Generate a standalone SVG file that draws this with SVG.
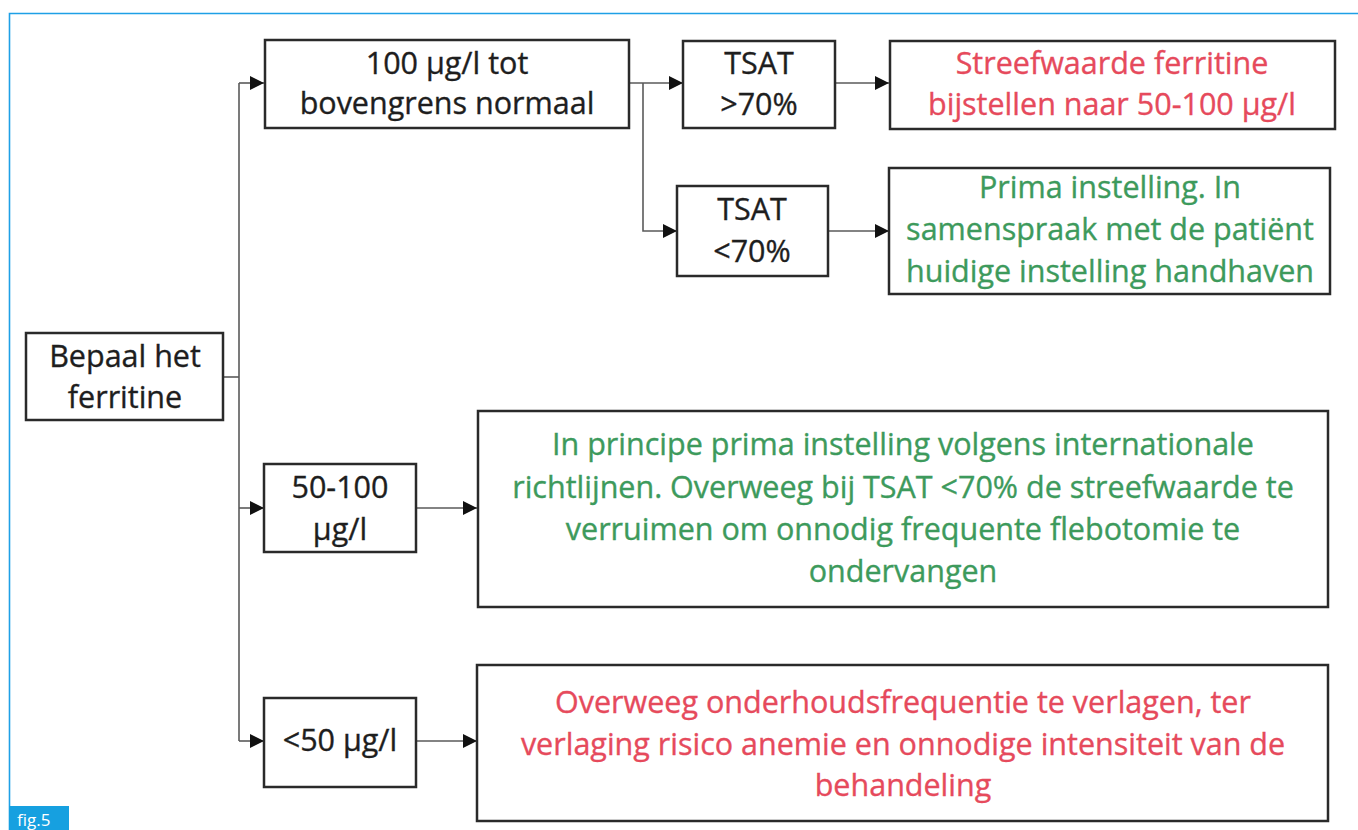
<svg xmlns="http://www.w3.org/2000/svg" width="1358" height="830" viewBox="0 0 1358 830">
  <style>
    .box { fill: #ffffff; stroke: #2a2a2a; stroke-width: 2.5; }
    .wire { fill: none; stroke: #5a5a5a; stroke-width: 1.6; }
    text { font-family: "Open Sans", "Liberation Sans", sans-serif; font-size: 30.5px; text-anchor: middle; stroke-width: 0.35; }
    .k { fill: #1e1e1e; stroke: #1e1e1e; }
    .r { fill: #e64a5c; stroke: #e64a5c; }
    .g { fill: #3d9a5c; stroke: #3d9a5c; }
    .tag { font-family: "Open Sans", "Liberation Sans", sans-serif; font-size: 17px; fill: #ffffff; stroke: none; text-anchor: start; }
  </style>
  <defs>
    <marker id="arrow" markerWidth="14" markerHeight="14" refX="14" refY="7" orient="auto" markerUnits="userSpaceOnUse">
      <path d="M0,0 L14,7 L0,14 Z" fill="#111111"/>
    </marker>
  </defs>

  <rect width="1358" height="830" fill="#ffffff"/>

  <!-- frame -->
  <path d="M9.5,830 L9.5,13.5 L1358,13.5" fill="none" stroke="#1ea0e6" stroke-width="1.6"/>
  <g id="figure-tag">
    <rect x="9" y="806" width="60" height="24" fill="#16a0e0"/>
    <text class="tag" x="17" y="826">fig.5</text>
  </g>

  <!-- connectors -->
  <g id="connectors">
    <path class="wire" d="M223,377 L239,377"/>
    <path class="wire" d="M239,83 L239,741"/>
    <path class="wire" d="M239,83 L264,83" marker-end="url(#arrow)"/>
    <path class="wire" d="M239,508 L264,508" marker-end="url(#arrow)"/>
    <path class="wire" d="M239,741 L264,741" marker-end="url(#arrow)"/>
    <path class="wire" d="M629,83 L683,83" marker-end="url(#arrow)"/>
    <path class="wire" d="M643,83 L643,231 L677,231" marker-end="url(#arrow)"/>
    <path class="wire" d="M835,83 L889,83" marker-end="url(#arrow)"/>
    <path class="wire" d="M828,231 L889,231" marker-end="url(#arrow)"/>
    <path class="wire" d="M416,508 L477,508" marker-end="url(#arrow)"/>
    <path class="wire" d="M416,741 L477,741" marker-end="url(#arrow)"/>
  </g>

  <g id="start">
    <rect class="box" x="26" y="333" width="197" height="87"/>
    <text class="k" x="125" y="367">Bepaal het</text>
    <text class="k" x="125" y="408">ferritine</text>
  </g>

  <g id="range-high">
    <rect class="box" x="265" y="40" width="364" height="88"/>
    <text class="k" x="447" y="74">100 µg/l tot</text>
    <text class="k" x="447" y="114">bovengrens normaal</text>
  </g>

  <g id="tsat-high">
    <rect class="box" x="683" y="41" width="152" height="87"/>
    <text class="k" x="759" y="74">TSAT</text>
    <text class="k" x="759" y="115">&gt;70%</text>
  </g>

  <g id="tsat-low">
    <rect class="box" x="677" y="186" width="151" height="90"/>
    <text class="k" x="752" y="220">TSAT</text>
    <text class="k" x="752" y="262">&lt;70%</text>
  </g>

  <g id="adjust-target">
    <rect class="box" x="890" y="41" width="445" height="88"/>
    <text class="r" x="1112" y="74">Streefwaarde ferritine</text>
    <text class="r" x="1112" y="115">bijstellen naar 50-100 µg/l</text>
  </g>

  <g id="keep-setting">
    <rect class="box" x="889" y="168" width="441" height="126"/>
    <text class="g" x="1110" y="198">Prima instelling. In</text>
    <text class="g" x="1110" y="240">samenspraak met de patiënt</text>
    <text class="g" x="1110" y="282">huidige instelling handhaven</text>
  </g>

  <g id="range-mid">
    <rect class="box" x="264" y="464" width="152" height="88"/>
    <text class="k" x="340" y="498">50-100</text>
    <text class="k" x="340" y="540">µg/l</text>
  </g>

  <g id="mid-advice">
    <rect class="box" x="478" y="411" width="850" height="196"/>
    <text class="g" x="903" y="455">In principe prima instelling volgens internationale</text>
    <text class="g" x="903" y="498">richtlijnen. Overweeg bij TSAT &lt;70% de streefwaarde te</text>
    <text class="g" x="903" y="540">verruimen om onnodig frequente flebotomie te</text>
    <text class="g" x="903" y="582">ondervangen</text>
  </g>

  <g id="range-low">
    <rect class="box" x="264" y="698" width="152" height="89"/>
    <text class="k" x="340" y="751">&lt;50 µg/l</text>
  </g>

  <g id="low-advice">
    <rect class="box" x="477" y="665" width="851" height="156"/>
    <text class="r" x="903" y="713">Overweeg onderhoudsfrequentie te verlagen, ter</text>
    <text class="r" x="903" y="755">verlaging risico anemie en onnodige intensiteit van de</text>
    <text class="r" x="903" y="796">behandeling</text>
  </g>
</svg>
